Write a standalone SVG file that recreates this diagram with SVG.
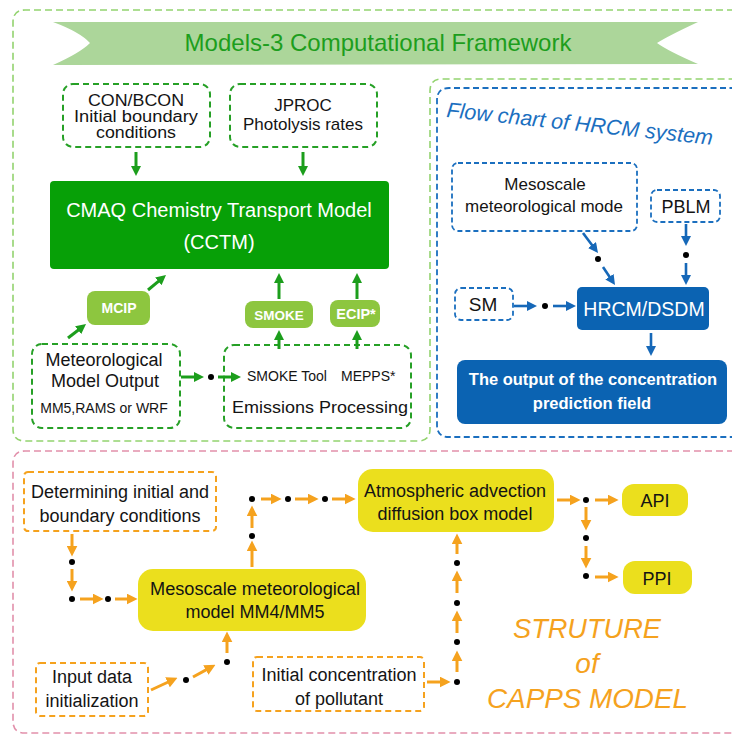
<svg xmlns="http://www.w3.org/2000/svg" width="732" height="736" viewBox="0 0 732 736">
  <style>
    text { font-family: "Liberation Sans", Arial, sans-serif; fill: #141414; }
    .c { text-anchor: middle; }
    .t18 { font-size: 18px; }
    .t17 { font-size: 17px; }
    .t16 { font-size: 16px; }
    .t14 { font-size: 14px; }
    .w { fill: #ffffff; }
    .b { font-weight: bold; }
    .hand { font-family: "DejaVu Sans", "Liberation Sans", sans-serif; font-style: italic; }
    .dg { fill: #ffffff; stroke: #26a026; stroke-width: 2; stroke-dasharray: 6 4; }
    .db { fill: #ffffff; stroke: #1b6fbf; stroke-width: 1.8; stroke-dasharray: 5 3; }
    .do { fill: #ffffff; stroke: #f5a21e; stroke-width: 2; stroke-dasharray: 6 4; }
    .sg { fill: #07a007; }
    .lg { fill: #8dc63f; }
    .sb { fill: #0b63b2; }
    .yl { fill: #ebdf1d; }
    .ag { fill: none; stroke: #1c9e1c; stroke-width: 3; marker-end: url(#hg); }
    .ab { fill: none; stroke: #1668b8; stroke-width: 2.6; marker-end: url(#hb); }
    .ao { fill: none; stroke: #f5a21e; stroke-width: 3; marker-end: url(#ho); }
    .dot { fill: #000000; }
  </style>
  <defs>
    <marker id="hg" viewBox="0 0 10 10" refX="4" refY="5" markerWidth="10" markerHeight="10" markerUnits="userSpaceOnUse" orient="auto">
      <path d="M0,0 L10,5 L0,10 z" fill="#1c9e1c"/>
    </marker>
    <marker id="hb" viewBox="0 0 10 10" refX="4" refY="5" markerWidth="10" markerHeight="10" markerUnits="userSpaceOnUse" orient="auto">
      <path d="M0,0 L10,5 L0,10 z" fill="#1668b8"/>
    </marker>
    <marker id="ho" viewBox="0 0 10 10" refX="4" refY="5" markerWidth="11" markerHeight="11" markerUnits="userSpaceOnUse" orient="auto">
      <path d="M0,0 L10,5 L0,10 z" fill="#f5a21e"/>
    </marker>
  </defs>

  <rect width="732" height="736" fill="#ffffff"/>

  <!-- panel frames -->
  <g id="frames" fill="none">
    <path d="M745 10 H25 Q13 10 13 22 V429 Q13 441 25 441 H418 Q430 441 430 429 V91 Q430 79 442 79 H745" stroke="#93d36f" stroke-width="1.6" stroke-dasharray="7 4"/>
    <path d="M745 88 H449 Q437 88 437 100 V425 Q437 437 449 437 H745" stroke="#1b6fbf" stroke-width="1.8" stroke-dasharray="6 3.5"/>
    <path d="M745 451 H25 Q13 451 13 463 V721 Q13 733 25 733 H745" stroke="#e290ab" stroke-width="1.6" stroke-dasharray="7 4"/>
  </g>

  <!-- title ribbon -->
  <g id="title">
    <path d="M53 22 L698 22 Q668 36 657 43 Q668 51 698 64 L53 65 Q80 53 90 43 Q80 32 53 22 Z" fill="#acd69a"/>
    <text x="378" y="51" class="c" style="font-size:24px; fill:#1d9e1d">Models-3 Computational Framework</text>
  </g>

  <!-- Models-3 nodes -->
  <g id="conbcon">
    <rect x="63" y="84" width="147" height="63" rx="10" class="dg"/>
    <text x="136" y="106" class="c t16" textLength="96" lengthAdjust="spacingAndGlyphs">CON/BCON</text>
    <text x="136" y="122" class="c t16" textLength="124" lengthAdjust="spacingAndGlyphs">Initial boundary</text>
    <text x="136" y="138" class="c t16" textLength="80" lengthAdjust="spacingAndGlyphs">conditions</text>
  </g>
  <g id="jproc">
    <rect x="230" y="84" width="147" height="63" rx="10" class="dg"/>
    <text x="303" y="111" class="c t17">JPROC</text>
    <text x="303" y="130" class="c t17">Photolysis rates</text>
  </g>
  <g id="cctm">
    <rect x="50" y="181" width="339" height="88" rx="4" class="sg"/>
    <text x="219" y="217" class="c w" style="font-size:20px">CMAQ Chemistry Transport Model</text>
    <text x="219" y="249" class="c w" style="font-size:20px">(CCTM)</text>
  </g>
  <g id="mcip">
    <rect x="87" y="291" width="63" height="34" rx="8" class="lg"/>
    <text x="119" y="313" class="c w b t14">MCIP</text>
  </g>
  <g id="smoke">
    <rect x="245" y="301" width="68" height="27" rx="8" class="lg"/>
    <text x="279" y="320" class="c w b" style="font-size:13.5px">SMOKE</text>
  </g>
  <g id="ecip">
    <rect x="330" y="300" width="50" height="27" rx="8" class="lg"/>
    <text x="356" y="319" class="c w b" style="font-size:14.5px">ECIP*</text>
  </g>
  <g id="met-output">
    <rect x="32" y="344" width="148" height="84" rx="10" class="dg"/>
    <text x="104" y="366" class="c t18">Meteorological</text>
    <text x="105" y="387" class="c t18">Model Output</text>
    <text x="104" y="413" class="c t14">MM5,RAMS or WRF</text>
  </g>
  <g id="emissions">
    <rect x="224" y="345" width="187" height="83" rx="10" class="dg"/>
    <text x="247" y="381" class="t14">SMOKE Tool</text>
    <text x="341" y="381" class="t14">MEPPS*</text>
    <text x="232" y="413" class="t17" textLength="176" lengthAdjust="spacingAndGlyphs">Emissions Processing</text>
  </g>

  <!-- HRCM nodes -->
  <g id="hrcm-title">
    <text x="446" y="117" transform="rotate(6 446 117)" style="font-size:21.5px; font-style:italic; fill:#1b6fbf">Flow chart of HRCM system</text>
  </g>
  <g id="meso-mode">
    <rect x="452" y="163" width="185" height="68" rx="6" class="db"/>
    <text x="545" y="190" class="c t17">Mesoscale</text>
    <text x="544" y="212" class="c t17">meteorological mode</text>
  </g>
  <g id="pblm">
    <rect x="651" y="190" width="69" height="32" rx="6" class="db"/>
    <text x="686" y="213" class="c t18">PBLM</text>
  </g>
  <g id="sm">
    <rect x="455" y="288" width="58" height="32" rx="6" class="db"/>
    <text x="483" y="311" class="c" style="font-size:19px">SM</text>
  </g>
  <g id="hrcm-dsdm">
    <rect x="577" y="287" width="132" height="43" rx="5" class="sb"/>
    <text x="644" y="316" class="c w" style="font-size:19.5px">HRCM/DSDM</text>
  </g>
  <g id="prediction">
    <rect x="457" y="360" width="270" height="64" rx="8" class="sb"/>
    <text x="593" y="385" class="c w b" style="font-size:16.5px">The output of the concentration</text>
    <text x="592" y="409" class="c w b" style="font-size:16.5px">prediction field</text>
  </g>

  <!-- CAPPS nodes -->
  <g id="boundary">
    <rect x="24" y="472" width="192" height="59" rx="4" class="do"/>
    <text x="120" y="498" class="c t18">Determining initial and</text>
    <text x="120" y="522" class="c t18">boundary conditions</text>
  </g>
  <g id="mm4-mm5">
    <rect x="138" y="569" width="228" height="62" rx="15" class="yl"/>
    <text x="255" y="595" class="c t18" textLength="210" lengthAdjust="spacingAndGlyphs">Mesoscale meteorological</text>
    <text x="255" y="618" class="c t18">model MM4/MM5</text>
  </g>
  <g id="input-data">
    <rect x="36" y="663" width="112" height="53" rx="4" class="do"/>
    <text x="92" y="683" class="c t18">Input data</text>
    <text x="92" y="707" class="c t18">initialization</text>
  </g>
  <g id="initial-conc">
    <rect x="253" y="657" width="171" height="54" rx="4" class="do"/>
    <text x="339" y="681" class="c t18">Initial concentration</text>
    <text x="339" y="705" class="c t18">of pollutant</text>
  </g>
  <g id="box-model">
    <rect x="358" y="469" width="196" height="63" rx="15" class="yl"/>
    <text x="455" y="497" class="c t18">Atmospheric advection</text>
    <text x="455" y="520" class="c t18">diffusion box model</text>
  </g>
  <g id="api">
    <rect x="622" y="484" width="66" height="32" rx="12" class="yl"/>
    <text x="655" y="507" class="c t18">API</text>
  </g>
  <g id="ppi">
    <rect x="623" y="561" width="69" height="33" rx="12" class="yl"/>
    <text x="657" y="585" class="c t18">PPI</text>
  </g>
  <g id="capps-title" class="hand" style="fill:#f5a21e">
    <text x="513" y="638" style="font-size:28px; fill:#f5a21e" textLength="148" lengthAdjust="spacingAndGlyphs">STRUTURE</text>
    <text x="587" y="673" class="c" style="font-size:28px; fill:#f5a21e">of</text>
    <text x="487" y="708" style="font-size:28px; fill:#f5a21e" textLength="201" lengthAdjust="spacingAndGlyphs">CAPPS MODEL</text>
  </g>

  <!-- connectors -->
  <g id="connectors">
    <path class="ag" d="M136 152 V170"/>
    <path class="ag" d="M303 152 V170"/>
    <path class="ag" d="M148 290 L161.4 278.8"/>
    <path class="ag" d="M68 338 L81.3 327.7"/>
    <path class="ag" d="M279 299 V279"/>
    <path class="ag" d="M357 299 V279"/>
    <path class="ag" d="M279 349 V336"/>
    <path class="ag" d="M357 349 V336"/>
    <path class="ag" d="M181 377 H198"/>
    <path class="ag" d="M218 377 H235"/>
    <circle class="dot" cx="211" cy="377" r="3"/>

    <path class="ab" d="M583 233 L594.4 248.2"/>
    <circle class="dot" cx="598" cy="259" r="3"/>
    <path class="ab" d="M603 267 L611.7 280"/>
    <path class="ab" d="M686 224 V240"/>
    <circle class="dot" cx="686" cy="255" r="3"/>
    <path class="ab" d="M686 263 V279"/>
    <path class="ab" d="M514 306 H531"/>
    <circle class="dot" cx="545" cy="306" r="3"/>
    <path class="ab" d="M553 306 H570"/>
    <path class="ab" d="M651 333 V350"/>

    <path class="ao" d="M72 534 V550"/>
    <circle class="dot" cx="72" cy="562" r="3"/>
    <path class="ao" d="M72 569 V585"/>
    <circle class="dot" cx="72" cy="599" r="3"/>
    <path class="ao" d="M80 599 H97"/>
    <circle class="dot" cx="108" cy="599" r="3"/>
    <path class="ao" d="M115 599 H131"/>
    <path class="ao" d="M252 567 V547"/>
    <circle class="dot" cx="252" cy="536" r="3"/>
    <path class="ao" d="M252 528 V512"/>
    <circle class="dot" cx="252" cy="499" r="3"/>
    <path class="ao" d="M261 499 H275"/>
    <circle class="dot" cx="288" cy="499" r="3"/>
    <path class="ao" d="M295 499 H312"/>
    <circle class="dot" cx="325" cy="499" r="3"/>
    <path class="ao" d="M332 499 H349"/>
    <path class="ao" d="M151 690 L171.5 680.5"/>
    <circle class="dot" cx="186" cy="680" r="3"/>
    <path class="ao" d="M193 677 L209.7 667.9"/>
    <circle class="dot" cx="227" cy="662" r="3"/>
    <path class="ao" d="M227 653 V638"/>
    <path class="ao" d="M427 682 H444"/>
    <circle class="dot" cx="457" cy="682" r="3"/>
    <path class="ao" d="M457 672 V657"/>
    <circle class="dot" cx="457" cy="642" r="3"/>
    <path class="ao" d="M457 633 V617"/>
    <circle class="dot" cx="457" cy="603" r="3"/>
    <path class="ao" d="M457 593 V577"/>
    <circle class="dot" cx="457" cy="563" r="3"/>
    <path class="ao" d="M457 554 V540"/>
    <path class="ao" d="M557 500 H574"/>
    <circle class="dot" cx="586" cy="500" r="3"/>
    <path class="ao" d="M595 500 H612"/>
    <path class="ao" d="M586 507 V524"/>
    <circle class="dot" cx="586" cy="538" r="3"/>
    <path class="ao" d="M586 546 V562"/>
    <circle class="dot" cx="586" cy="576" r="3"/>
    <path class="ao" d="M595 577 H612"/>
  </g>
</svg>
